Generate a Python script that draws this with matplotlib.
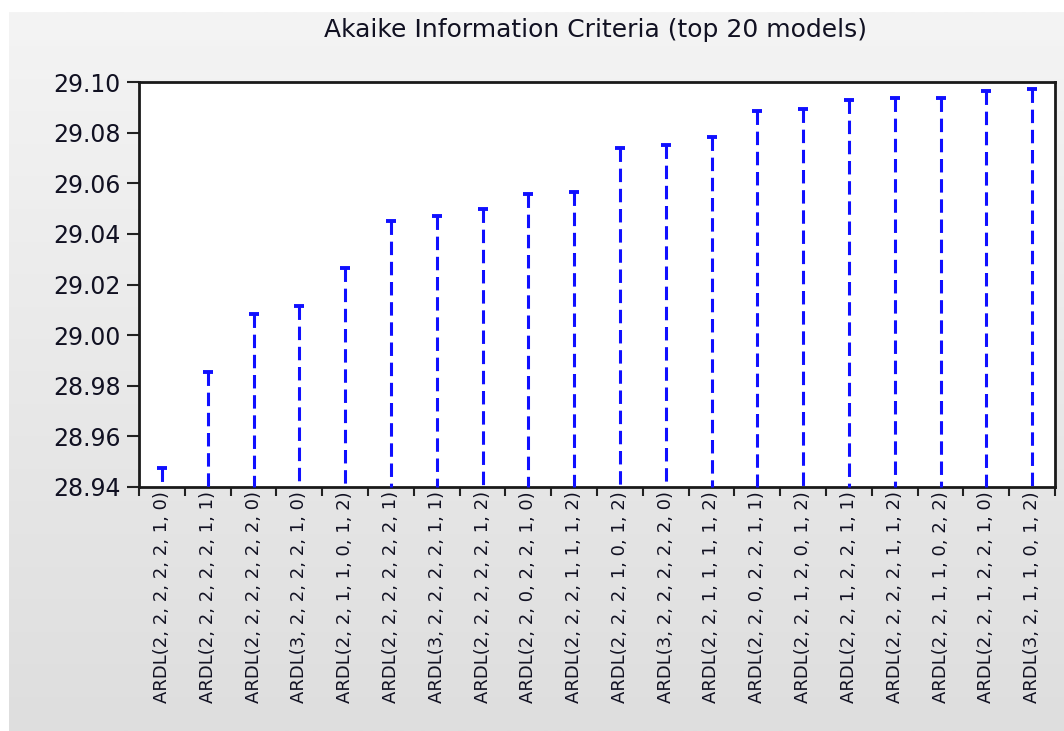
import numpy as np
import matplotlib
matplotlib.use("Agg")
import matplotlib.pyplot as plt
from matplotlib.colors import LinearSegmentedColormap

# Model specifications (x categories) and their Akaike information criterion values
models = [
    "ARDL(2, 2, 2, 2, 2, 1, 0)",
    "ARDL(2, 2, 2, 2, 2, 1, 1)",
    "ARDL(2, 2, 2, 2, 2, 2, 0)",
    "ARDL(3, 2, 2, 2, 2, 1, 0)",
    "ARDL(2, 2, 1, 1, 0, 1, 2)",
    "ARDL(2, 2, 2, 2, 2, 2, 1)",
    "ARDL(3, 2, 2, 2, 2, 1, 1)",
    "ARDL(2, 2, 2, 2, 2, 1, 2)",
    "ARDL(2, 2, 0, 2, 2, 1, 0)",
    "ARDL(2, 2, 2, 1, 1, 1, 2)",
    "ARDL(2, 2, 2, 1, 0, 1, 2)",
    "ARDL(3, 2, 2, 2, 2, 2, 0)",
    "ARDL(2, 2, 1, 1, 1, 1, 2)",
    "ARDL(2, 2, 0, 2, 2, 1, 1)",
    "ARDL(2, 2, 1, 2, 0, 1, 2)",
    "ARDL(2, 2, 1, 2, 2, 1, 1)",
    "ARDL(2, 2, 2, 2, 1, 1, 2)",
    "ARDL(2, 2, 1, 1, 0, 2, 2)",
    "ARDL(2, 2, 1, 2, 2, 1, 0)",
    "ARDL(3, 2, 1, 1, 0, 1, 2)",
]
aic = [
    28.9475, 28.9854, 29.0083, 29.0115, 29.0265,
    29.0451, 29.0471, 29.0498, 29.0557, 29.0565,
    29.0739, 29.0751, 29.0783, 29.0885, 29.0893,
    29.0929, 29.0937, 29.0937, 29.0964, 29.0972,
]
y_ticks = [28.94, 28.96, 28.98, 29.00, 29.02, 29.04, 29.06, 29.08, 29.10]
title = "Akaike Information Criteria (top 20 models)"

W, H = 1064, 731
plt.rcParams["font.family"] = ["DejaVu Sans"]
fig = plt.figure(figsize=(W / 100, H / 100), dpi=100)
fig.patch.set_facecolor("white")

# light grey panel with a soft vertical gradient
bg = fig.add_axes([9 / W, 0, 1 - 9 / W, (H - 12) / H], zorder=0)
grad = np.linspace(0, 1, 256).reshape(-1, 1)
cmap = LinearSegmentedColormap.from_list("panel", ["#f4f4f4", "#dedede"])
bg.imshow(grad, aspect="auto", cmap=cmap, extent=[0, 1, 0, 1], origin="upper")
bg.set_axis_off()

# plotting area
left, right, top, bottom = 139, 1055, 82, 487
ax = fig.add_axes([left / W, (H - bottom) / H, (right - left) / W, (bottom - top) / H],
                  zorder=1)
ax.set_facecolor("white")

ymin, ymax = y_ticks[0], y_ticks[-1]
n = len(aic)
x = np.arange(n) + 0.5
blue = "#1010ff"

# dashed spikes from the baseline up to each value, capped with a short bar
for xi, v in zip(x, aic):
    ax.plot([xi, xi], [v, ymin], color=blue, lw=2.2, dashes=(4.4, 2.2),
            dash_capstyle="butt", solid_capstyle="butt", clip_on=False, zorder=3)
ax.plot(x, aic, ls="none", marker="_", ms=6.5, mew=2.8, color=blue,
        clip_on=False, zorder=4)

ax.set_xlim(0, n)
ax.set_ylim(ymin, ymax)

# category boundaries as ticks, names centred under each spike
ax.set_xticks(np.arange(n + 1))
ax.set_xticklabels([])
ax.set_xticks(x, minor=True)
ax.set_xticklabels(models, minor=True, rotation=90, fontsize=13, color="#111122")
ax.tick_params(axis="x", which="major", direction="out", length=6.5, width=1.5,
               color="#222222")
ax.tick_params(axis="x", which="minor", length=0, pad=3)

ax.set_yticks(y_ticks)
ax.set_yticklabels([f"{t:.2f}" for t in y_ticks], fontsize=17, color="#111122")
ax.tick_params(axis="y", direction="out", length=9, width=1.5, pad=4,
               color="#222222")

for s in ax.spines.values():
    s.set_linewidth(2.0)
    s.set_color("#1a1a1a")

fig.text(595 / W, 1 - 30 / H, title, ha="center", va="center", fontsize=18,
         color="#111122")

fig.savefig("out.png", dpi=100)
